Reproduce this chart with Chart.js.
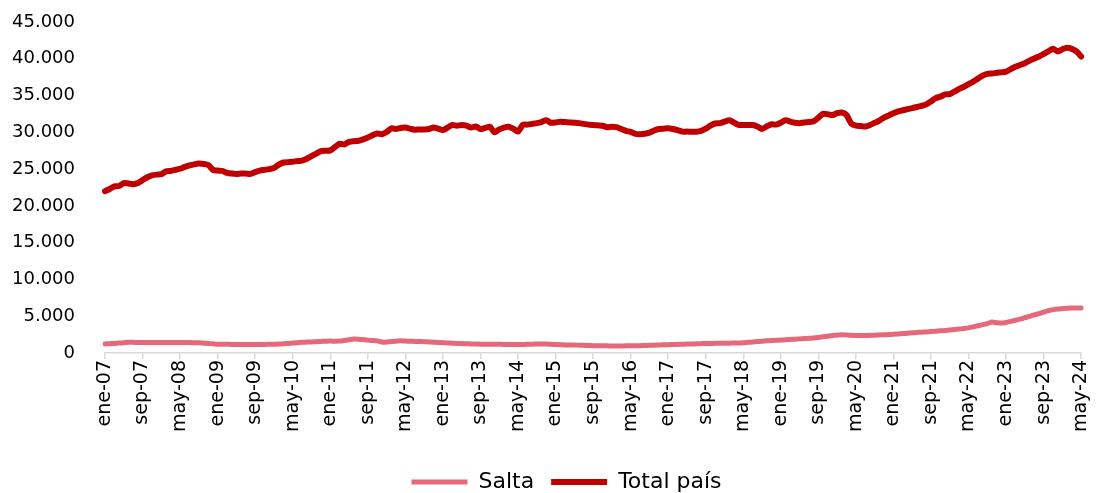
<!DOCTYPE html>
<html>
<head>
<meta charset="utf-8">
<script src="https://cdn.jsdelivr.net/npm/chart.js@4/dist/chart.umd.min.js"></script>
<style>
  html, body { margin: 0; padding: 0; background: #fff; }
  #chart { display: block; }
</style>
</head>
<body>
<canvas id="chart" width="1105" height="493"></canvas>
<script>
// Meses y años de la serie (ene-07 a may-24)
const monthNames = ['ene', 'feb', 'mar', 'abr', 'may', 'jun', 'jul', 'ago', 'sep', 'oct', 'nov', 'dic'];
const firstYear = 2007;
const lastYear = 2024;
const lastMonth = 5;

const seriesNames = ['Salta', 'Total país'];
const seriesColors = ['#E5697B', '#C00000'];
const seriesWidths = [5, 6];

// Salta (una fila por año)
const salta = [
    1230, 1260, 1300, 1350, 1400, 1450, 1450, 1430, 1420, 1420, 1430, 1420,
    1420, 1430, 1440, 1430, 1420, 1420, 1420, 1400, 1380, 1340, 1300, 1250,
    1200, 1190, 1180, 1170, 1160, 1150, 1140, 1140, 1150, 1160, 1170, 1180,
    1190, 1220, 1260, 1300, 1350, 1400, 1450, 1480, 1510, 1540, 1570, 1600,
    1620, 1600, 1620, 1700, 1800, 1900, 1880, 1820, 1750, 1700, 1650, 1500,
    1480, 1550, 1600, 1650, 1620, 1600, 1580, 1560, 1540, 1500, 1470, 1440,
    1400, 1360, 1330, 1290, 1280, 1260, 1240, 1220, 1200, 1190, 1190, 1180,
    1180, 1170, 1160, 1150, 1140, 1160, 1180, 1200, 1220, 1230, 1210, 1180,
    1150, 1130, 1100, 1090, 1080, 1060, 1040, 1020, 1000, 990, 980, 970,
    960, 960, 960, 970, 980, 990, 1000, 1020, 1040, 1070, 1090, 1110,
    1130, 1150, 1170, 1190, 1210, 1230, 1250, 1270, 1280, 1300, 1310, 1320,
    1330, 1340, 1360, 1370, 1400, 1450, 1500, 1550, 1600, 1650, 1690, 1720,
    1760, 1800, 1840, 1880, 1920, 1960, 2000, 2050, 2120, 2200, 2290, 2380,
    2420, 2470, 2450, 2400, 2380, 2380, 2380, 2400, 2420, 2450, 2480, 2510,
    2550, 2590, 2640, 2690, 2740, 2790, 2830, 2870, 2920, 2960, 3010, 3060,
    3120, 3190, 3260, 3330, 3420, 3550, 3700, 3850, 4000, 4200, 4120, 4070,
    4150, 4300, 4450, 4600, 4800, 4980, 5180, 5350, 5550, 5750, 5900, 5980,
    6030, 6080, 6110, 6120, 6120
];

// Total país (una fila por año)
const totalPais = [
    22000, 22300, 22650, 22700, 23100, 23050, 22950, 23100, 23500, 23900, 24150, 24250,
    24300, 24700, 24750, 24900, 25050, 25300, 25500, 25650, 25750, 25700, 25550, 24900,
    24800, 24750, 24500, 24400, 24350, 24400, 24400, 24350, 24600, 24800, 24900, 25000,
    25150, 25600, 25900, 25950, 26000, 26100, 26150, 26400, 26750, 27100, 27450, 27500,
    27550, 28000, 28450, 28350, 28700, 28800, 28850, 29050, 29300, 29600, 29850, 29750,
    30050, 30550, 30450, 30600, 30650, 30500, 30350, 30400, 30400, 30450, 30650, 30500,
    30300, 30650, 31000, 30900, 31000, 30900, 30650, 30800, 30450, 30600, 30750, 30000,
    30400, 30650, 30750, 30500, 30100, 31000, 31050, 31150, 31250, 31400, 31650, 31300,
    31350, 31450, 31400, 31350, 31300, 31250, 31150, 31050, 31000, 30950, 30900, 30700,
    30750, 30700, 30450, 30200, 30050, 29800, 29750, 29800, 29950, 30250, 30450, 30500,
    30550, 30450, 30300, 30100, 30100, 30080, 30080, 30200, 30500, 30900, 31200, 31250,
    31450, 31650, 31350, 31000, 31000, 31000, 31000, 30800, 30450, 30800, 31100, 31050,
    31300, 31650, 31450, 31300, 31250, 31350, 31400, 31500, 32000, 32500, 32450, 32350,
    32600, 32700, 32350, 31200, 30900, 30850, 30800, 31000, 31300, 31600, 32000, 32300,
    32600, 32850, 33000, 33150, 33300, 33450, 33600, 33800, 34200, 34650, 34850, 35150,
    35200, 35550, 35900, 36200, 36550, 36900, 37300, 37700, 37950, 38000, 38100, 38150,
    38250, 38600, 38900, 39150, 39400, 39750, 40050, 40300, 40650, 41000, 41350, 41000,
    41300, 41500, 41350, 41000, 40300
];

const yTicks = [0, 5000, 10000, 15000, 20000, 25000, 30000, 35000, 40000, 45000];
const labelEvery = 8;

// categorías "ene-07", "feb-07", ...
const categories = [];
for (let y = firstYear; y <= lastYear; y++) {
    const upTo = y === lastYear ? lastMonth : 12;
    for (let m = 0; m < upTo; m++) {
        categories.push(monthNames[m] + '-' + String(y).slice(2));
    }
}

const fmt = v => String(v).replace(/\B(?=(\d{3})+(?!\d))/g, '.');

// corre la leyenda un poco a la derecha, como en el original
const legendShift = {
    id: 'legendShift',
    afterLayout(chart) {
        chart.legend.left += 20;
        chart.legend.right += 20;
    }
};

const ctx = document.getElementById('chart');

new Chart(ctx, {
    type: 'line',
    data: {
        labels: categories,
        datasets: [salta, totalPais].map((values, i) => ({
            label: seriesNames[i],
            data: values,
            borderColor: seriesColors[i],
            backgroundColor: seriesColors[i],
            borderWidth: seriesWidths[i],
            borderCapStyle: 'round',
            borderJoinStyle: 'round',
            pointRadius: 0,
            pointHoverRadius: 0,
            tension: 0.25,
            fill: false
        }))
    },
    options: {
        responsive: false,
        animation: false,
        layout: {
            padding: { top: 22, right: 12, bottom: -10, left: 0 }
        },
        plugins: {
            tooltip: { enabled: false },
            legend: {
                position: 'bottom',
                labels: {
                    usePointStyle: true,
                    pointStyle: 'line',
                    pointStyleWidth: 56,
                    padding: 17,
                    color: '#000',
                    font: { family: 'DejaVu Sans', size: 22 }
                }
            }
        },
        scales: {
            x: {
                offset: false,
                afterBuildTicks: scale => {
                    scale.ticks = scale.ticks.filter(t => t.value % labelEvery === 0);
                },
                afterFit: scale => { scale.height = 101; },
                border: { display: true, color: '#D9D9D9', width: 1.5 },
                grid: {
                    display: true,
                    drawOnChartArea: false,
                    drawTicks: true,
                    tickLength: 6,
                    color: '#D9D9D9',
                    lineWidth: 1.5
                },
                ticks: {
                    autoSkip: false,
                    minRotation: 90,
                    maxRotation: 90,
                    padding: 1,
                    color: '#000',
                    font: { family: 'DejaVu Sans', size: 19 }
                }
            },
            y: {
                min: 0,
                max: 45000,
                afterBuildTicks: scale => {
                    scale.ticks = yTicks.map(v => ({ value: v }));
                },
                afterFit: scale => { scale.width = 105; },
                border: { display: false },
                // marcas invisibles: solo separan las etiquetas del área
                grid: {
                    display: true,
                    drawOnChartArea: false,
                    drawTicks: true,
                    tickLength: 30,
                    color: 'rgba(0,0,0,0)'
                },
                ticks: {
                    padding: 0,
                    color: '#000',
                    font: { family: 'DejaVu Sans', size: 18 },
                    callback: v => fmt(v)
                }
            }
        }
    },
    plugins: [legendShift]
});
</script>
</body>
</html>
